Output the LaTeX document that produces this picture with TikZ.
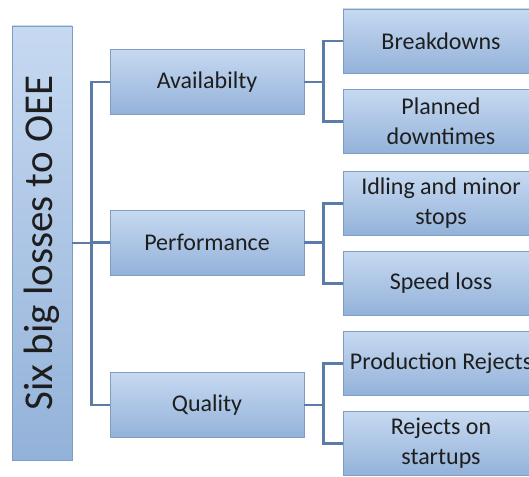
\documentclass[tikz,border=0pt]{standalone}
\usepackage{fontspec}
\setmainfont{Carlito}
\usepackage{xcolor}
\usepackage{tikz}
\usetikzlibrary{calc}
\definecolor{boxtop}{HTML}{C6D9F1}
\definecolor{boxbot}{HTML}{93B2D9}
\definecolor{boxline}{HTML}{819DC4}
\definecolor{wire}{HTML}{5B7CA8}
\definecolor{ink}{HTML}{1E1E1E}
\tikzset{
    box/.style={draw=boxline, line width=0.9pt, top color=boxtop, bottom color=boxbot, inner sep=0pt, align=center, text=ink, font=\fontsize{24}{30}\selectfont},
    midbox/.style={box, minimum width=194pt, minimum height=65pt},
    leaf/.style={box, minimum width=196pt, minimum height=64pt},
    wire/.style={draw=wire, line width=2.4pt}}

\begin{document}
\begin{tikzpicture}[x=1pt,y=-1pt]
\useasboundingbox (0,0) rectangle (529,476);
\clip (0,0) rectangle (529,476);

\node[box, minimum width=60pt, minimum height=434pt, font=\fontsize{41}{48}\selectfont] (root) at (42,243) {\rotatebox{90}{Six big losses to OEE}};

\node[midbox] (avail) at (207,82) {Availabilty};
\node[midbox] (perf) at (207,242.5) {Performance};
\node[midbox] (qual) at (207,405) {Quality};

\node[leaf] (brk) at (441,41) {Breakdowns};
\node[leaf] (pdt) at (441,121.5) {Planned\\downtimes};
\node[leaf] (idl) at (441,203.5) {Idling and minor\\stops};
\node[leaf] (spd) at (441,283.5) {Speed loss};
\node[leaf] (prj) at (441,363.5) {Production Rejects};
\node[leaf] (rst) at (441,443.5) {Rejects on\\startups};

\draw [wire] (root.east) -- ++(19,0) |- (avail.west);
\draw [wire] (root.east) -- ++(19,0) |- (perf.west);
\draw [wire] (root.east) -- ++(19,0) |- (qual.west);

\draw [wire] (avail.east) -- ++(19,0) |- (brk.west);
\draw [wire] (avail.east) -- ++(19,0) |- (pdt.west);
\draw [wire] (perf.east) -- ++(19,0) |- (idl.west);
\draw [wire] (perf.east) -- ++(19,0) |- (spd.west);
\draw [wire] (qual.east) -- ++(19,0) |- (prj.west);
\draw [wire] (qual.east) -- ++(19,0) |- (rst.west);
\end{tikzpicture}
\end{document}
